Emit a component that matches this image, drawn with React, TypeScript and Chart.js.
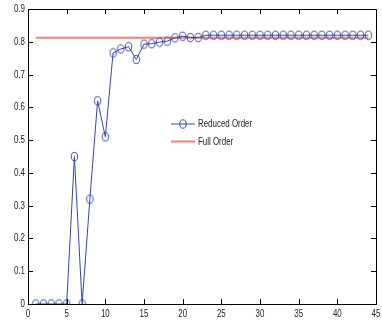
import React, { useEffect, useRef } from "react";
import { Chart, registerables } from "chart.js";

Chart.register(...registerables);

const xValues = [1, 2, 3, 4, 5, 6, 7, 8, 9, 10, 11, 12, 13, 14, 15, 16, 17, 18, 19, 20, 21, 22, 23, 24, 25, 26, 27, 28, 29, 30, 31, 32, 33, 34, 35, 36, 37, 38, 39, 40, 41, 42, 43, 44];
const reducedOrder = [0, 0, 0, 0, 0, 0.45, 0, 0.32, 0.62, 0.51, 0.766, 0.778, 0.785, 0.746, 0.793, 0.794, 0.799, 0.802, 0.812, 0.817, 0.813, 0.813, 0.82, 0.82, 0.82, 0.82, 0.82, 0.82, 0.82, 0.82, 0.82, 0.82, 0.82, 0.82, 0.82, 0.82, 0.82, 0.82, 0.82, 0.82, 0.82, 0.82, 0.82, 0.82];
const fullOrderX = [1, 44];
const fullOrderY = [0.812, 0.812];
const xTicks = [0, 5, 10, 15, 20, 25, 30, 35, 40, 45];
const yTicks = [0, 0.1, 0.2, 0.3, 0.4, 0.5, 0.6, 0.7, 0.8, 0.9];
const seriesLabels = ["Reduced Order", "Full Order"];

const FONT = "'Liberation Sans', Arial, sans-serif";
const SQUEEZE = 0.72;
const BLUE = "#3446a8";
const RED = "#ee8377";
const TEXT = "#222";

function makeMarker(): HTMLCanvasElement {
  const c = document.createElement("canvas");
  c.width = 9;
  c.height = 11;
  const g = c.getContext("2d")!;
  g.strokeStyle = BLUE;
  g.lineWidth = 1;
  g.beginPath();
  g.ellipse(4.5, 5.5, 3.2, 4.2, 0, 0, Math.PI * 2);
  g.stroke();
  return c;
}

function squeezedText(ctx: CanvasRenderingContext2D, text: string, x: number, y: number, align: "left" | "right" | "center") {
  ctx.save();
  ctx.translate(x, y);
  ctx.scale(SQUEEZE, 1);
  ctx.textAlign = align;
  ctx.fillText(text, 0, 0);
  ctx.restore();
}

const boxPlugin = {
  id: "matlabBox",
  afterDraw(chart: any) {
    const { ctx, chartArea } = chart;
    const { left, right, top, bottom } = chartArea;
    const xs = chart.scales.x;
    const ys = chart.scales.y;
    ctx.save();
    ctx.strokeStyle = "#000";
    ctx.lineWidth = 1;
    ctx.beginPath();
    ctx.rect(Math.round(left) + 0.5, Math.round(top) + 0.5, Math.round(right - left), Math.round(bottom - top));
    ctx.stroke();
    const tl = 5;
    ctx.beginPath();
    xTicks.forEach((v) => {
      const px = Math.round(xs.getPixelForValue(v)) + 0.5;
      ctx.moveTo(px, bottom);
      ctx.lineTo(px, bottom - tl);
      ctx.moveTo(px, top);
      ctx.lineTo(px, top + tl);
    });
    yTicks.forEach((v) => {
      const py = Math.round(ys.getPixelForValue(v)) + 0.5;
      ctx.moveTo(left, py);
      ctx.lineTo(left + tl, py);
      ctx.moveTo(right, py);
      ctx.lineTo(right - tl, py);
    });
    ctx.stroke();

    // tick labels
    ctx.fillStyle = TEXT;
    ctx.font = "11px " + FONT;
    ctx.textBaseline = "middle";
    xTicks.forEach((v) => {
      squeezedText(ctx, String(v), xs.getPixelForValue(v), bottom + 10, "center");
    });
    yTicks.forEach((v) => {
      squeezedText(ctx, String(Math.round(v * 10) / 10), left - 3, ys.getPixelForValue(v), "right");
    });

    // legend
    const lx = left + 143;
    const ly = top + 115;
    const rowH = 17.5;
    chart.data.datasets.forEach((ds: any, i: number) => {
      const y = ly + i * rowH;
      ctx.strokeStyle = ds.borderColor;
      ctx.lineWidth = ds.borderWidth;
      ctx.beginPath();
      ctx.moveTo(lx, y);
      ctx.lineTo(lx + 24, y);
      ctx.stroke();
      if (ds.pointRadius > 0) {
        ctx.lineWidth = 1;
        ctx.beginPath();
        ctx.ellipse(lx + 12, y, 3.2, 4.2, 0, 0, Math.PI * 2);
        ctx.stroke();
      }
      squeezedText(ctx, ds.label, lx + 27, y, "left");
    });
    ctx.restore();
  },
};

export default function App() {
  const ref = useRef<HTMLCanvasElement>(null);
  useEffect(() => {
    if (!ref.current) return;
    const marker = makeMarker();
    const chart = new Chart(ref.current, {
      type: "line",
      data: {
        datasets: [
          {
            label: seriesLabels[0],
            data: xValues.map((x, i) => ({ x, y: reducedOrder[i] })),
            borderColor: BLUE,
            backgroundColor: "rgba(0,0,0,0)",
            borderWidth: 1,
            pointRadius: 4,
            pointStyle: marker as any,
            tension: 0,
          },
          {
            label: seriesLabels[1],
            data: fullOrderX.map((x, i) => ({ x, y: fullOrderY[i] })),
            borderColor: RED,
            backgroundColor: "rgba(0,0,0,0)",
            borderWidth: 2,
            pointRadius: 0,
            tension: 0,
          },
        ],
      },
      options: {
        animation: false,
        responsive: true,
        maintainAspectRatio: false,
        layout: { padding: { top: 9, right: 6, left: 0, bottom: 0 } },
        plugins: { legend: { display: false }, tooltip: { enabled: false } },
        scales: {
          x: {
            type: "linear",
            min: 0,
            max: 45,
            afterFit: (s: any) => { s.height = 20; },
            grid: { display: false, drawTicks: false },
            border: { display: true, color: "#000" },
            ticks: { display: false },
          },
          y: {
            type: "linear",
            min: 0,
            max: 0.9,
            afterFit: (s: any) => { s.width = 28; },
            grid: { display: false, drawTicks: false },
            border: { display: true, color: "#000" },
            ticks: { display: false },
          },
        },
      },
      plugins: [boxPlugin],
    });
    return () => chart.destroy();
  }, []);
  return (
    <div style={{ position: "fixed", left: 0, top: 0, width: 382, height: 324, background: "#fff" }}>
      <canvas ref={ref} />
    </div>
  );
}
